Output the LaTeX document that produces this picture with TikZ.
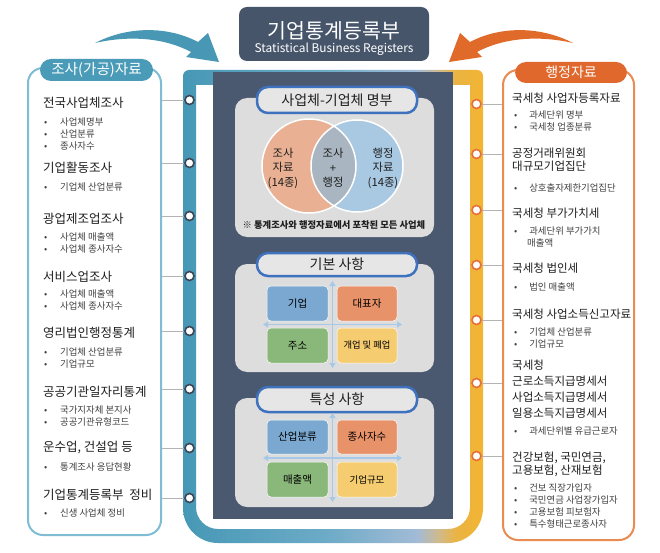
\documentclass[tikz,border=0pt]{standalone}
\usepackage{fontspec}
\setmainfont{Noto Sans CJK KR}
\usepackage{tikz}
\usetikzlibrary{arrows.meta,calc}
\definecolor{bandblue}{HTML}{4698B6}
\definecolor{bandmid}{HTML}{6DABC7}
\definecolor{bandlight}{HTML}{A2BBD6}
\definecolor{bandtrans}{HTML}{CFBA90}
\definecolor{bandyel}{HTML}{EAB443}
\definecolor{bandyel2}{HTML}{F2B432}
\definecolor{titledark}{HTML}{47556B}
\definecolor{paneldark}{HTML}{4A596F}
\definecolor{panelgray}{HTML}{DDDDDD}
\definecolor{headblue}{HTML}{3E72BE}
\definecolor{headfill}{HTML}{E6E6E6}
\definecolor{lboxline}{HTML}{80BCD4}
\definecolor{lhdrfill}{HTML}{4A9BB8}
\definecolor{rboxline}{HTML}{EA8B52}
\definecolor{rhdrfill}{HTML}{E0682C}
\definecolor{arrblue}{HTML}{4898B5}
\definecolor{arrorange}{HTML}{E06A2A}
\definecolor{circdark}{HTML}{3D4655}
\definecolor{circorange}{HTML}{E7703A}
\definecolor{connline}{HTML}{B4B4B4}
\definecolor{textdark}{HTML}{1E1E1E}
\definecolor{textgray}{HTML}{404040}
\definecolor{vennsalmon}{HTML}{E9B093}
\definecolor{vennblue}{HTML}{A9C8E2}
\definecolor{venngray}{HTML}{A9B6C1}
\definecolor{cblue}{HTML}{7AA8D0}
\definecolor{corange}{HTML}{E8926A}
\definecolor{cgreen}{HTML}{8AB87A}
\definecolor{cyellow}{HTML}{F5CC70}
\definecolor{gridarrow}{HTML}{A8C8E8}
\pgfdeclarehorizontalshading{bandshade}{100bp}{color(0bp)=(bandblue); color(25bp)=(bandblue); color(49bp)=(bandmid); color(64bp)=(bandlight); color(67.5bp)=(bandtrans); color(70.5bp)=(bandyel); color(75bp)=(bandyel2); color(100bp)=(bandyel2)}
\newcommand{\itm}[1][13]{\leavevmode\llap{\textbullet\hspace{#1pt}}}

\begin{document}
\begin{tikzpicture}[x=1pt,y=-1pt,
  lhead/.style={anchor=west,inner sep=0,text=textdark,font=\fontsize{12.5}{14}\selectfont},
  rhead/.style={anchor=west,inner sep=0,align=left,text=textdark,font=\fontsize{11.5}{13}\selectfont},
  litem/.style={anchor=west,inner sep=0,align=left,text=textgray,font=\fontsize{9.4}{12}\selectfont},
  lcirc/.style={circle,draw=circdark,fill=white,line width=1.6,minimum size=9,inner sep=0},
  rcirc/.style={circle,draw=circorange,fill=white,line width=1.6,minimum size=9,inner sep=0},
  conn/.style={draw=connline,line width=0.8},
  panel/.style={fill=panelgray,rounded corners=12,minimum width=199,inner sep=0},
  shead/.style={draw=headblue,line width=2.5,fill=headfill,rounded corners=11,minimum width=160,inner sep=0,text=textdark,font=\fontsize{14}{16}\selectfont},
  cell/.style={draw=white,line width=0.5,rounded corners=4,minimum width=61,minimum height=35,inner sep=0,text=black,font=\fontsize{10.5}{12}\selectfont},
  venn/.style={align=center,inner sep=0,text=textdark,font=\fontsize{11.3}{14.5}\selectfont},
  grid/.style={<->,draw=gridarrow,line width=1.6,>={Triangle[length=5pt,width=6pt]}}]
\useasboundingbox (0,0) rectangle (660,553);
\fill[white] (0,0) rectangle (660,553);

% curved arrows
\fill[arrblue] (95,43) .. controls (130,25) and (170,27) .. (198,42) -- (208,33) -- (219,62) -- (186,57) -- (191,52) .. controls (165,38) and (130,35) .. (95,43) -- cycle;
\fill[arrorange] (573,43) .. controls (538,25) and (498,27) .. (470,42) -- (460,33) -- (449,62) -- (482,57) -- (477,52) .. controls (503,38) and (538,35) .. (573,43) -- cycle;

% title
\node[fill=titledark,rounded corners=8,minimum width=190,minimum height=54,align=center,text=white] (T) at (334,34)
  {{\fontsize{20.5}{22}\selectfont\rule{0pt}{25pt}기업통계등록부}\\[2pt]{\fontsize{11.9}{13}\selectfont Statistical Business Registers}};

% frame band
\shade[shading=bandshade,even odd rule]
  [rounded corners=6] (183,300) -- (183,70) -- (483,70) -- (483,300) [rounded corners=35] -- (483,543) -- (183,543) -- cycle
  [sharp corners] (196,300) -- (196,85) -- (470,85) -- (470,300) [rounded corners=22] -- (470,529) -- (196,529) -- cycle;
\node[fill=paneldark,minimum width=240,minimum height=447,inner sep=0] (DP) at (333,295.5) {};

% survey box
\node[draw=lboxline,line width=2,rounded corners=15,minimum width=133,minimum height=467] (LB) at (94.5,301.5) {};
\node[fill=lhdrfill,rounded corners=11,minimum width=113,minimum height=22,inner sep=0,text=white,font=\fontsize{14.6}{16}\selectfont] (LH) at (96.5,70) {조사(가공)자료};
\node[lhead] (L1) at (43,103) {전국사업체조사};
\node[litem] (L1i) at (60,134) {\itm 사업체명부\\\itm 산업분류\\\itm 종사자수};
\node[lhead] (L2) at (43,168) {기업활동조사};
\node[litem] (L2i) at (60,187) {\itm 기업체 산업분류};
\node[lhead] (L3) at (43,219) {광업제조업조사};
\node[litem] (L3i) at (60,243) {\itm 사업체 매출액\\\itm 사업체 종사자수};
\node[lhead] (L4) at (43,277) {서비스업조사};
\node[litem] (L4i) at (60,300) {\itm 사업체 매출액\\\itm 사업체 종사자수};
\node[lhead] (L5) at (43,333) {영리법인행정통계};
\node[litem] (L5i) at (60,357.5) {\itm 기업체 산업분류\\\itm 기업규모};
\node[lhead] (L6) at (43,392) {공공기관일자리통계};
\node[litem] (L6i) at (60,416) {\itm 국가지자체 본지사\\\itm 공공기관유형코드};
\node[lhead] (L7) at (43,448) {운수업, 건설업 등};
\node[litem] (L7i) at (60,467) {\itm 통계조사 응답현황};
\node[lhead] (L8) at (43,495) {기업통계등록부~~정비};
\node[litem] (L8i) at (60,513) {\itm 신생 사업체 정비};

% admin box
\node[draw=rboxline,line width=2,rounded corners=15,minimum width=131,minimum height=470] (RB) at (568.5,305) {};
\node[fill=rhdrfill,rounded corners=11,minimum width=112,minimum height=21,inner sep=0,text=white,font=\fontsize{14}{16}\selectfont] (RH) at (571,72.5) {행정자료};
\node[rhead] (R1) at (512,98) {국세청 사업자등록자료};
\node[litem] (R1i) at (527,121) {\itm[10] 과세단위 명부\\\itm[10] 국세청 업종분류};
\node[rhead] (R2) at (512,160) {공정거래위원회\\대규모기업집단};
\node[litem] (R2i) at (527,188) {\itm[10] 상호출자제한기업집단};
\node[rhead] (R3) at (512,213) {국세청 부가가치세};
\node[litem] (R3i) at (527,237) {\itm[10] 과세단위 부가가치\\매출액};
\node[rhead] (R4) at (512,268) {국세청 법인세};
\node[litem] (R4i) at (527,287) {\itm[10] 법인 매출액};
\node[rhead] (R5) at (512,314) {국세청 사업소득신고자료};
\node[litem] (R5i) at (527,337.5) {\itm[10] 기업체 산업분류\\\itm[10] 기업규모};
\node[rhead,font=\fontsize{11.5}{16}\selectfont] (R6) at (512,389) {국세청\\근로소득지급명세서\\사업소득지급명세서\\일용소득지급명세서};
\node[litem] (R6i) at (527,431) {\itm[10] 과세단위별 유급근로자};
\node[rhead,font=\fontsize{11.5}{12.8}\selectfont] (R7) at (512,464) {건강보험, 국민연금,\\고용보험, 산재보험};
\node[litem] (R7i) at (527,506) {\itm[10] 건보 직장가입자\\\itm[10] 국민연금 사업장가입자\\\itm[10] 고용보험 피보험자\\\itm[10] 특수형태근로종사자};

% stations on the band
\node[lcirc] (cL1) at (189.5,100) {};
\node[lcirc] (cL2) at (189.5,163) {};
\node[lcirc] (cL3) at (189.5,216) {};
\node[lcirc] (cL4) at (189.5,276) {};
\node[lcirc] (cL5) at (189.5,331) {};
\node[lcirc] (cL6) at (189.5,389) {};
\node[lcirc] (cL7) at (189.5,448) {};
\node[lcirc] (cL8) at (189.5,498) {};
\node[rcirc] (cR1) at (476.5,104) {};
\node[rcirc] (cR2) at (476.5,154) {};
\node[rcirc] (cR3) at (476.5,210) {};
\node[rcirc] (cR4) at (476.5,265) {};
\node[rcirc] (cR5) at (476.5,320) {};
\node[rcirc] (cR6) at (476.5,383) {};
\node[rcirc] (cR7) at (476.5,456) {};
\path[conn]
  (cL1 -| LB.east) -- (cL1.west) (cL2 -| LB.east) -- (cL2.west)
  (cL3 -| LB.east) -- (cL3.west) (cL4 -| LB.east) -- (cL4.west)
  (cL5 -| LB.east) -- (cL5.west) (cL6 -| LB.east) -- (cL6.west)
  (cL7 -| LB.east) -- (cL7.west) (cL8 -| LB.east) -- (cL8.west)
  (cR1.east) -- (cR1 -| RB.west) (cR2.east) -- (cR2 -| RB.west)
  (cR3.east) -- (cR3 -| RB.west) (cR4.east) -- (cR4 -| RB.west)
  (cR5.east) -- (cR5 -| RB.west) (cR6.east) -- (cR6 -| RB.west)
  (cR7.east) -- (cR7 -| RB.west);

% register list
\node[panel,minimum height=139] (P1) at (334.5,167.5) {};
\node[shead,minimum height=26] (H1) at (337,100) {사업체-기업체 명부};
\fill[vennsalmon] (309,166) circle (47);
\fill[vennblue] (357,166) circle (46);
\begin{scope}
\clip (309,166) circle (47);
\fill[venngray] (357,166) circle (46);
\end{scope}
\draw[white,line width=1.5] (309,166) circle (47) (357,166) circle (46);
\node[venn] (V1) at (283,168) {조사\\자료\\(14종)};
\node[venn] (V2) at (333,168) {조사\\+\\행정};
\node[venn] (V3) at (383,168) {행정\\자료\\(14종)};
\node[inner sep=0,text=textdark,font=\bfseries\fontsize{9.3}{10}\selectfont] (N) at (334,225) {※ 통계조사와 행정자료에서 포착된 모든 사업체};

% basic items
\node[panel,minimum height=108] (P2) at (334.5,318) {};
\node[shead,minimum height=23] (H2) at (337,264.5) {기본 사항};
\coordinate (V2t) at (332.5,281); \coordinate (V2b) at (332.5,368);
\coordinate (H2l) at (263,324.5); \coordinate (H2r) at (402,324.5);
\draw[grid] (V2t) -- (V2b);
\draw[grid] (H2l) -- (H2r);
\node[cell,fill=cblue] (A1) at (297.5,303.5) {기업};
\node[cell,fill=corange,minimum width=60] (A2) at (367,303.5) {대표자};
\node[cell,fill=cgreen] (A3) at (297.5,345.5) {주소};
\node[cell,fill=cyellow,minimum width=60,font=\fontsize{9.3}{11}\selectfont] (A4) at (367,345.5) {개업 및 폐업};

% characteristic items
\node[panel,minimum height=109] (P3) at (334.5,452.5) {};
\node[shead,minimum height=25] (H3) at (337,399.5) {특성 사항};
\coordinate (V3t) at (332.5,413); \coordinate (V3b) at (332.5,502);
\coordinate (H3l) at (263,458); \coordinate (H3r) at (402,458);
\draw[grid] (V3t) -- (V3b);
\draw[grid] (H3l) -- (H3r);
\node[cell,fill=cblue,minimum height=34] (B1) at (297.5,437) {산업분류};
\node[cell,fill=corange,minimum width=60,minimum height=34] (B2) at (367,437) {종사자수};
\node[cell,fill=cgreen] (B3) at (297.5,479.5) {매출액};
\node[cell,fill=cyellow,minimum width=60,font=\fontsize{9.5}{11}\selectfont] (B4) at (367,479.5) {기업규모};
\end{tikzpicture}
\end{document}
